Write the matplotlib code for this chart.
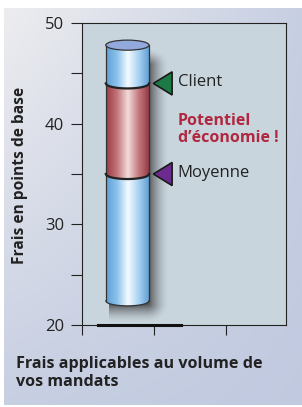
import numpy as np
import matplotlib.pyplot as plt
from matplotlib.patches import Polygon, Ellipse
from matplotlib.colors import LinearSegmentedColormap

# Values (basis points)
cyl_bottom = 22.4
cyl_top = 47.8
moyenne = 35.0
client = 44.0
labels = ['Client', 'Moyenne']
values = [client, moyenne]
arrow_colors = ['#1b7a45', '#6c2b8e']
y_ticks = [20, 30, 40, 50]
y_minor = [25, 35, 45]

plt.rcParams['font.family'] = ['Open Sans', 'DejaVu Sans']

fig = plt.figure(figsize=(3.02, 4.07), dpi=100)
W, H = 302, 407

# Background panel with soft gradient
bg = fig.add_axes([4 / W, 2 / H, 298 / W, 397 / H])
yy, xx = np.mgrid[0:1:200j, 0:1:200j]
c_light = np.array([0.93, 0.93, 0.94])
c_blue = np.array([0.68, 0.73, 0.85])
t = np.clip(0.6 * xx + 0.6 * yy - 0.5 * xx * yy, 0, 1)
img = c_light[None, None, :] * (1 - t[..., None]) + c_blue[None, None, :] * t[..., None]
bg.imshow(img, extent=[0, 1, 0, 1], aspect='auto', origin='upper')
bg.set_axis_off()

# Main axes
ax = fig.add_axes([82 / W, (H - 325) / H, 204 / W, 302 / H])
ax.set_facecolor('#c9d5dd')
ax.set_xlim(0, 2.83)
ax.set_ylim(20, 50)

cx, half_w, half_h = 0.63, 0.30, 0.5


def arc(yc, n=60):
    xs = np.linspace(cx - half_w, cx + half_w, n)
    ys = yc - half_h * np.sqrt(np.clip(1 - ((xs - cx) / half_w) ** 2, 0, 1))
    return xs, ys


# soft shadow to the right of and below the cylinder
sx0, sx1 = cx - half_w + 0.05, cx + half_w + 0.32
sy0, sy1 = cyl_bottom - 2.2, cyl_top - 0.3
gx = np.linspace(sx0, sx1, 200)
gy = np.linspace(sy1, sy0, 300)
GX, GY = np.meshgrid(gx, gy)
dx = np.clip((GX - (cx + half_w - 0.02)) / 0.3, 0, None)
dy = np.clip(((cyl_bottom - 0.3) - GY) / 1.9, 0, None)
dtop = np.clip((GY - (cyl_top - 2.0)) / 1.7, 0, None)
d = np.sqrt(dx ** 2 + dy ** 2 + dtop ** 2)
sh = np.zeros(GX.shape + (4,))
sh[..., :3] = 0.2
sh[..., 3] = 0.85 * np.clip(1 - d, 0, 1) ** 1.6
ax.imshow(sh, extent=[sx0, sx1, sy0, sy1], aspect='auto', zorder=1)

blue_cmap = LinearSegmentedColormap.from_list(
    'b', ['#5f9fd6', '#8cc2ec', '#f4fbff', '#a7d1f1', '#5c9ad2'])
red_cmap = LinearSegmentedColormap.from_list(
    'r', ['#9a3c45', '#c27479', '#f3dcdc', '#c2787d', '#913540'])

sections = [(cyl_bottom, moyenne, blue_cmap), (moyenne, client, red_cmap),
            (client, cyl_top, blue_cmap)]
grad = np.linspace(0, 1, 256)[None, :]
for y0, y1, cmap in sections:
    xs0, ys0 = arc(y0)
    xs1, ys1 = arc(y1)
    poly = Polygon(np.column_stack([np.r_[xs0, xs1[::-1]], np.r_[ys0, ys1[::-1]]]),
                   closed=True, facecolor='none', edgecolor='none')
    ax.add_patch(poly)
    im = ax.imshow(grad, cmap=cmap, extent=[cx - half_w, cx + half_w, y0 - half_h, y1],
                   aspect='auto', zorder=2)
    im.set_clip_path(poly)

# outline of the cylinder
xs, ys = arc(cyl_bottom)
ax.plot([cx - half_w, cx - half_w], [cyl_bottom, cyl_top], color='#333333', lw=0.9, zorder=3)
ax.plot([cx + half_w, cx + half_w], [cyl_bottom, cyl_top], color='#333333', lw=0.9, zorder=3)
ax.plot(xs, ys, color='#333333', lw=0.9, zorder=3)
for v in values:
    xs, ys = arc(v)
    ax.plot(xs, ys, color='#222222', lw=1.6, zorder=3)
ax.add_patch(Ellipse((cx, cyl_top), 2 * half_w, 2 * half_h, facecolor='#93a9de',
                     edgecolor='#333333', lw=0.9, zorder=4))

# markers and labels
for lab, v, col in zip(labels, values, arrow_colors):
    tri = Polygon([[0.99, v], [1.25, v + 1.15], [1.25, v - 1.15]], closed=True,
                  facecolor=col, edgecolor='#1a1a1a', lw=1.2, zorder=5)
    ax.add_patch(tri)
    ax.text(1.33, v + 0.1, lab, fontsize=12, color='#222222', va='center', ha='left')

ax.text(1.33, 39.4, 'Potentiel\nd\u2019économie !', fontsize=11.5, fontweight='bold',
        color='#b02840', va='center', ha='left', linespacing=1.1)

# thick base segment
ax.plot([0.22, 1.38], [20, 20], color='#111111', lw=2.2, clip_on=False, zorder=6)

# axes styling
for s in ['top', 'right', 'left', 'bottom']:
    ax.spines[s].set_color('#222222')
    ax.spines[s].set_linewidth(0.8)
ax.set_yticks(y_ticks)
ax.set_yticks(y_minor, minor=True)
ax.tick_params(axis='y', which='both', direction='out', length=8, width=0.8,
               labelsize=12, colors='#222222', pad=5)
ax.set_xticks([0, 1, 2])
ax.set_xticklabels([])
ax.tick_params(axis='x', direction='out', length=7, width=0.8, colors='#222222')

fig.text(20 / W, 1 - 175 / H, 'Frais en points de base', rotation=90, fontsize=11.2,
         fontweight='bold', color='#222222', ha='center', va='center')
fig.text(16 / W, 1 - 373 / H, 'Frais applicables au volume de\nvos mandats', fontsize=11.6,
         fontweight='bold', color='#222222', ha='left', va='center', linespacing=1.25)

plt.savefig('out.png', dpi=100)
